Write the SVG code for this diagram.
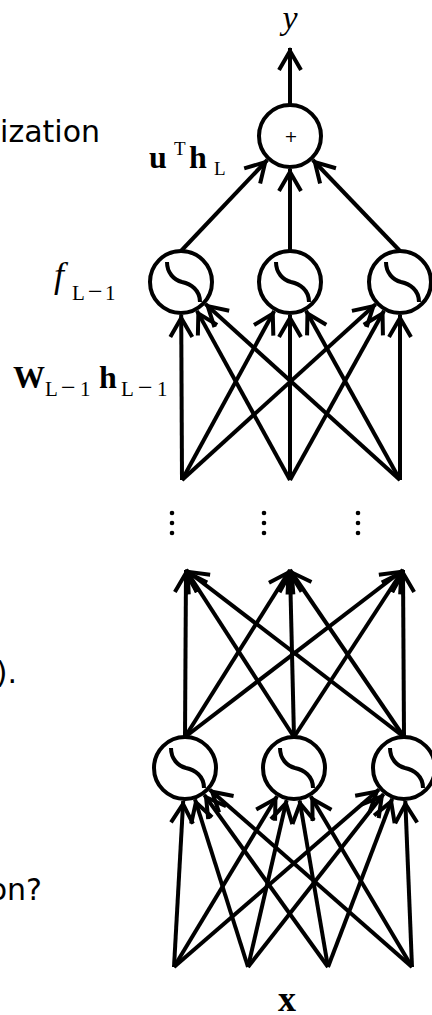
<svg xmlns="http://www.w3.org/2000/svg" width="432" height="1015" viewBox="0 0 432 1015">
<style>
.n{fill:#fff;stroke:#000;stroke-width:4}
.e{stroke:#000;stroke-width:4;fill:none;marker-end:url(#ah)}
.s{fill:none;stroke:#000;stroke-width:4}
.d{fill:#000}
.side{font-family:"DejaVu Sans",sans-serif;font-size:30px;fill:#000}
.m{font-family:"Liberation Serif",serif;fill:#000}
.sub{font-size:21px}
.mi{font-size:26px}
</style>
<defs>
<marker id="ah" markerUnits="userSpaceOnUse" markerWidth="40" markerHeight="40" viewBox="-30 -20 40 40" refX="0" refY="0" orient="auto" overflow="visible">
<path d="M-22,-11 L-3,0 L-22,11" fill="none" stroke="#000" stroke-width="4"/>
</marker>
<path id="sig" d="M-14,-20 C-14,-9 -7,-2 1,0 C10,2 19,8 19,20"/>
</defs>

<g id="connectors">
<path class="e" d="M290,104 L290,48"/>
<path class="e" d="M181,251 L267.3,160"/>
<path class="e" d="M290,251 L290,169"/>
<path class="e" d="M400,251 L312.8,160"/>

<path class="e" d="M182,480 L181.2,315"/>
<path class="e" d="M290,480 L196.9,310.9"/>
<path class="e" d="M400,480 L205.5,304.1"/>
<path class="e" d="M182,480 L274.2,311"/>
<path class="e" d="M290,480 L290,315"/>
<path class="e" d="M400,480 L306,310.8"/>
<path class="e" d="M182,480 L375.6,304.2"/>
<path class="e" d="M290,480 L384,310.8"/>
<path class="e" d="M400,480 L400,315"/>

<path class="e" d="M185,737 L186,570"/>
<path class="e" d="M294,737 L186,570"/>
<path class="e" d="M404,737 L186,570"/>
<path class="e" d="M185,737 L290,570"/>
<path class="e" d="M294,737 L290,570"/>
<path class="e" d="M404,737 L290,570"/>
<path class="e" d="M185,737 L403,570"/>
<path class="e" d="M294,737 L403,570"/>
<path class="e" d="M404,737 L403,570"/>

<path class="e" d="M174,967 L183.2,801"/>
<path class="e" d="M248,967 L195,799.5"/>
<path class="e" d="M328,967 L204.3,794.8"/>
<path class="e" d="M412,967 L209.8,789.7"/>
<path class="e" d="M174,967 L277,796.3"/>
<path class="e" d="M248,967 L286.6,800.2"/>
<path class="e" d="M328,967 L299.6,800.5"/>
<path class="e" d="M412,967 L310.8,796.4"/>
<path class="e" d="M174,967 L379,789.6"/>
<path class="e" d="M248,967 L383.6,794"/>
<path class="e" d="M328,967 L392.2,798.8"/>
<path class="e" d="M412,967 L405.3,801"/>
</g>

<g id="sum">
<circle class="n" cx="290" cy="136" r="31"/>
<text x="291" y="142" font-family="DejaVu Sans, sans-serif" font-size="16" text-anchor="middle">+</text>
</g>
<g id="hTop1"><circle class="n" cx="181" cy="282" r="31"/><use class="s" href="#sig" x="181" y="282"/></g>
<g id="hTop2"><circle class="n" cx="290" cy="282" r="31"/><use class="s" href="#sig" x="290" y="282"/></g>
<g id="hTop3"><circle class="n" cx="400" cy="282" r="31"/><use class="s" href="#sig" x="400" y="282"/></g>
<g id="hBot1"><circle class="n" cx="185" cy="768" r="31"/><use class="s" href="#sig" x="185" y="768"/></g>
<g id="hBot2"><circle class="n" cx="294" cy="768" r="31"/><use class="s" href="#sig" x="294" y="768"/></g>
<g id="hBot3"><circle class="n" cx="404" cy="768" r="31"/><use class="s" href="#sig" x="404" y="768"/></g>

<g id="dots">
<circle class="d" cx="172" cy="513" r="2.3"/><circle class="d" cx="172" cy="523" r="2.3"/><circle class="d" cx="172" cy="533" r="2.3"/>
<circle class="d" cx="264" cy="513" r="2.3"/><circle class="d" cx="264" cy="523" r="2.3"/><circle class="d" cx="264" cy="533" r="2.3"/>
<circle class="d" cx="358" cy="513" r="2.3"/><circle class="d" cx="358" cy="523" r="2.3"/><circle class="d" cx="358" cy="533" r="2.3"/>
</g>

<g id="labels">
<text class="m" x="290" y="29" font-style="italic" font-size="34" text-anchor="middle">y</text>
<text class="m"><tspan x="149" y="168" font-size="32" font-weight="bold">u</tspan><tspan x="174" y="155" font-size="19">T</tspan><tspan x="189" y="168" font-size="32" font-weight="bold">h</tspan><tspan x="214" y="175" font-size="19">L</tspan></text>
<text class="m"><tspan x="54" y="287" font-size="36" font-style="italic">f</tspan><tspan class="sub" x="72" y="300">L</tspan><tspan class="mi" x="88" y="300">−</tspan><tspan class="sub" x="105" y="300">1</tspan></text>
<text class="m"><tspan x="13" y="388" font-size="32" font-weight="bold">W</tspan><tspan class="sub" x="45" y="396">L</tspan><tspan class="mi" x="61" y="396">−</tspan><tspan class="sub" x="80" y="396">1</tspan><tspan x="99" y="388" font-size="32" font-weight="bold">h</tspan><tspan class="sub" x="121" y="396">L</tspan><tspan class="mi" x="138" y="396">−</tspan><tspan class="sub" x="157" y="396">1</tspan></text>
<text class="m" x="287" y="1011" font-size="36" font-weight="bold" text-anchor="middle">x</text>
</g>

<g id="side-text">
<text class="side" x="100" y="142" text-anchor="end">ization</text>
<text class="side" x="17" y="683" text-anchor="end">).</text>
<text class="side" x="42" y="900" text-anchor="end" font-family="Open Sans, sans-serif">on?</text>
</g>
</svg>
